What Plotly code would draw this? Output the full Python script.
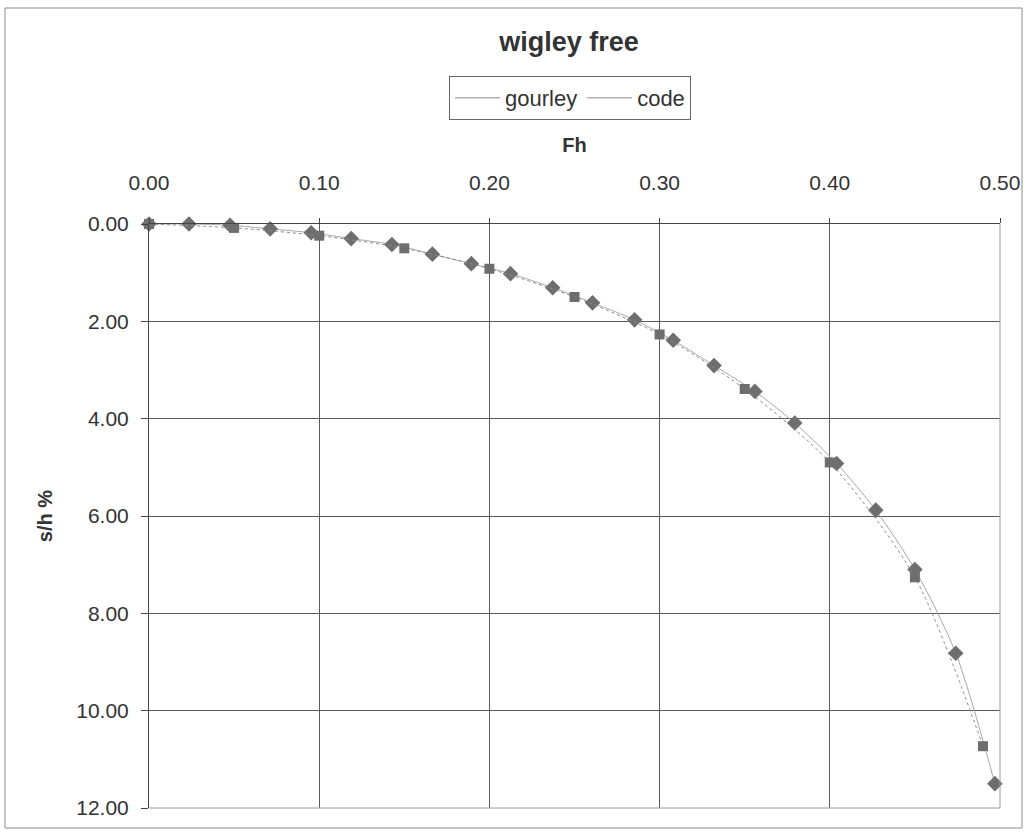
import plotly.graph_objects as go

# Gourley measurements (Froude depth number vs. sinkage %)
gourley_fh = [0.0, 0.0235, 0.0476, 0.0712, 0.0953, 0.1188, 0.1427, 0.1665, 0.1894, 0.2124,
              0.2372, 0.2606, 0.2853, 0.308, 0.332, 0.356, 0.3794, 0.404, 0.427, 0.45,
              0.474, 0.497]
gourley_sh = [0.0, 0.0, 0.025, 0.10, 0.18, 0.30, 0.42, 0.62, 0.815, 1.02,
              1.31, 1.62, 1.97, 2.39, 2.91, 3.44, 4.09, 4.92, 5.88, 7.10,
              8.82, 11.50]

# Code predictions
code_fh = [0.0, 0.05, 0.10, 0.15, 0.20, 0.25, 0.30, 0.35, 0.40, 0.45, 0.49]
code_sh = [0.0, 0.08, 0.24, 0.50, 0.92, 1.50, 2.27, 3.39, 4.90, 7.26, 10.73]

x_ticks = [0.0, 0.1, 0.2, 0.3, 0.4, 0.5]
y_ticks = [0, 2, 4, 6, 8, 10, 12]

FONT = "Liberation Sans, Arial, sans-serif"
TEXT = "#333333"
GRID = "#5a5a5a"
MARK = "#6e6e6e"

fig = go.Figure()

fig.add_trace(go.Scatter(
    x=gourley_fh, y=gourley_sh, mode="lines+markers", name="gourley",
    line=dict(color="#a8a8a8", width=1, shape="spline", smoothing=0.8),
    marker=dict(symbol="diamond", size=12, color=MARK),
    showlegend=False, cliponaxis=False,
))
fig.add_trace(go.Scatter(
    x=code_fh, y=code_sh, mode="lines+markers", name="code",
    line=dict(color="#8c8c8c", width=1, dash="dot", shape="spline", smoothing=0.8),
    marker=dict(symbol="square", size=10, color=MARK),
    showlegend=False, cliponaxis=False,
))

# legend entries show the line style only
fig.add_trace(go.Scatter(x=[None], y=[None], mode="lines", name="gourley",
                         line=dict(color="#8a8a8a", width=1)))
fig.add_trace(go.Scatter(x=[None], y=[None], mode="lines", name="code",
                         line=dict(color="#8a8a8a", width=1)))

fig.update_layout(
    width=1031, height=837,
    margin=dict(l=149, r=31, t=224, b=29),
    paper_bgcolor="white", plot_bgcolor="white",
    font=dict(family=FONT, color=TEXT, size=20),
    title=dict(text="<b>wigley free</b>", x=569 / 1031, xanchor="center",
               y=1 - 42 / 837, yanchor="middle", yref="container",
               font=dict(size=27, color=TEXT)),
    legend=dict(orientation="h", x=0.4947, xanchor="center", y=1.2534, yanchor="top",
                bordercolor="#666666", borderwidth=1, bgcolor="white",
                font=dict(size=22, color=TEXT), itemwidth=45,
                tracegroupgap=0),
    showlegend=True,
)

fig.update_xaxes(
    range=[0, 0.5], side="top", tickvals=x_ticks, tickformat=".2f",
    showgrid=True, gridcolor=GRID, gridwidth=1, zeroline=False,
    showline=True, linecolor="#444444", linewidth=1,
    ticks="outside", ticklen=5, tickcolor="#444444", ticklabelstandoff=20,
    tickfont=dict(size=21, color=TEXT),
    title=dict(text="<b>Fh</b>", font=dict(size=20, color=TEXT), standoff=12),
)
fig.update_yaxes(
    range=[12, 0], tickvals=y_ticks, tickformat=".2f",
    showgrid=True, gridcolor=GRID, gridwidth=1, zeroline=False,
    showline=True, linecolor="#444444", linewidth=1,
    ticks="outside", ticklen=7, tickcolor="#444444", ticklabelstandoff=8,
    tickfont=dict(size=21, color=TEXT),
    title=dict(text="<b>s/h %</b>", font=dict(size=20, color=TEXT), standoff=18),
)

# plot-area border on the right and bottom
fig.add_shape(type="line", xref="paper", yref="paper", x0=1, x1=1, y0=0, y1=1,
              line=dict(color="#9a9a9a", width=1), layer="above")
fig.add_shape(type="line", xref="paper", yref="paper", x0=0, x1=1, y0=0, y1=0,
              line=dict(color="#9a9a9a", width=1), layer="above")

# chart-area frame
fig.add_shape(type="rect", xref="paper", yref="paper",
              x0=(5 - 149) / 851, x1=(1022 - 149) / 851,
              y0=(808 - 828) / 584, y1=(808 - 8) / 584,
              line=dict(color="#8a8a8a", width=1))

fig.write_html("out.html")
